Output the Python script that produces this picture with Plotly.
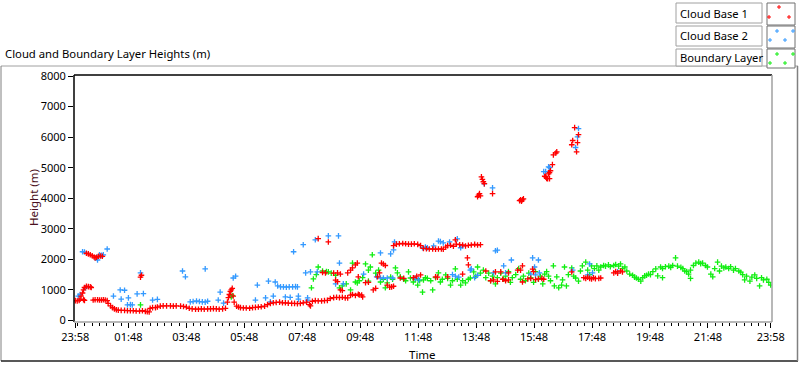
import plotly.graph_objects as go

# ---------------- data (minutes after 23:58, height in m) ----------------
cloud_base_1 = [
    (0, 650), (4, 640), (8, 660), (10, 700), (12, 800), (15, 900), (17, 1000), (19, 1080), (23, 1120),
    (27, 1110), (31, 1100), (33, 1080), (17, 680), (19, 660),
    (23, 2200), (27, 2180), (31, 2150), (35, 2120), (39, 2080), (41, 2050), (44, 2070), (48, 2100),
    (52, 2110), (56, 2100),
    (37, 670), (41, 680), (46, 680), (50, 670), (54, 670), (58, 680), (62, 670), (66, 650),
    (68, 560), (73, 480), (77, 420), (81, 380), (85, 350), (89, 340), (95, 330), (102, 330), (108, 320),
    (114, 320), (120, 320), (126, 310), (133, 310), (139, 320), (145, 300), (149, 290), (153, 280),
    (137, 1480), (135, 1420),
    (155, 400), (160, 420), (166, 420), (170, 440), (176, 470), (182, 480), (189, 480), (197, 480),
    (203, 470), (209, 480), (218, 470), (224, 460), (230, 440), (236, 400), (242, 380), (249, 370),
    (255, 370), (261, 380), (267, 370), (274, 380), (280, 380), (286, 390), (292, 380), (298, 370),
    (305, 380), (311, 400), (315, 600), (317, 750), (319, 850), (321, 950), (323, 1000), (325, 1050),
    (327, 800), (329, 600), (334, 470), (338, 440), (342, 420), (348, 410), (354, 410), (361, 400),
    (367, 420), (373, 430), (379, 440), (385, 450), (392, 470), (398, 520), (404, 560), (410, 580),
    (416, 590), (423, 600), (429, 580), (435, 580), (441, 570), (448, 560), (454, 560), (460, 550),
    (466, 560), (472, 580), (479, 600), (485, 520), (487, 480),
    (491, 630), (497, 650), (503, 640), (510, 640), (516, 650), (522, 660), (528, 720), (535, 750),
    (541, 760), (547, 750), (553, 760), (559, 740), (564, 740), (570, 830), (574, 850), (580, 820),
    (586, 860), (593, 830),
    (503, 2680), (524, 2570),
    (512, 1570), (518, 1560), (535, 1550), (543, 1560), (549, 1520), (543, 1270), (539, 1320),
    (549, 1000), (553, 980),
    (564, 1560), (570, 1650), (574, 1720), (580, 1820), (584, 1880), (586, 1430), (588, 840), (595, 770),
    (601, 1240), (607, 1250),
    (617, 1000), (622, 1050), (626, 1430), (630, 1560), (634, 1880), (638, 1850), (642, 1800),
    (646, 1160), (651, 1090), (655, 1100), (659, 1120),
    (659, 2450), (665, 2500), (671, 2510), (678, 2520), (684, 2510), (690, 2500), (696, 2500),
    (702, 2510), (709, 2490), (715, 2450), (721, 2360), (727, 2350), (733, 2340), (740, 2340),
    (746, 2330), (752, 2340), (758, 2340), (762, 2330), (767, 2400), (771, 2450), (777, 2460),
    (783, 2430), (787, 2640), (789, 2500), (796, 2480), (802, 2470), (808, 2440), (814, 2460),
    (820, 2470), (827, 2490), (833, 2470), (839, 2480),
    (673, 1390), (680, 1380), (700, 1400), (707, 1450), (715, 1490), (746, 1430), (750, 1420),
    (771, 1430), (802, 1520), (812, 2050), (814, 1820), (850, 1620), (860, 1300), (866, 1330),
    (870, 1590), (874, 1280), (881, 1590), (885, 1350), (891, 1300), (897, 1560), (897, 1330),
    (916, 1650), (922, 1650), (926, 1260), (926, 1790), (937, 1360), (943, 1380), (947, 1680),
    (949, 1600), (953, 1340), (959, 1360), (966, 1380), (970, 1350),
    (833, 4050), (835, 4100), (837, 4150), (839, 4080), (841, 4700), (843, 4620), (845, 4540),
    (847, 4480), (864, 4150), (920, 3920), (922, 3950), (924, 3900), (926, 3950), (928, 3980),
    (972, 4720), (974, 4700), (976, 4650), (978, 4640), (982, 4640), (980, 4800), (982, 4840),
    (984, 4900), (988, 5100), (990, 5420), (995, 5480), (997, 5520), (1028, 5750), (1030, 5890),
    (1038, 5520), (1040, 5820), (1042, 6080), (1034, 6310),
    (1028, 1590), (1053, 1400), (1057, 1380), (1061, 1420), (1065, 1380), (1069, 1360), (1073, 1400),
    (1077, 1370), (1084, 1380), (1088, 1390), (1115, 1560), (1119, 1600), (1123, 1550), (1129, 1620),
    (1133, 1590),
]

cloud_base_2 = [
    (15, 2250), (19, 2240), (46, 1980), (50, 2150), (54, 2130), (58, 2150), (66, 2340), (21, 1070),
    (6, 800), (10, 850),
    (79, 800), (93, 1000), (102, 990), (95, 700), (110, 740), (108, 510), (114, 520), (118, 510),
    (128, 870), (141, 880), (135, 1560), (160, 670), (170, 690), (222, 1620), (228, 1430), (269, 1690),
    (238, 610), (244, 620), (251, 640), (257, 620), (263, 610), (269, 600), (274, 630), (300, 930),
    (296, 670), (307, 570), (327, 1390), (332, 1450), (377, 1160), (373, 670), (400, 1290), (410, 800),
    (414, 1260), (419, 1130), (425, 1100), (431, 1100), (437, 1090), (443, 1100), (450, 1100),
    (456, 1110), (460, 1100), (452, 2250), (472, 2480), (477, 1560), (481, 740), (462, 800),
    (487, 1590), (497, 2640), (501, 1590), (524, 2770), (545, 2770), (547, 1880), (539, 1200),
    (555, 1200), (597, 1520), (632, 2210), (653, 2180), (659, 2310), (624, 1430), (638, 1390),
    (646, 1390), (657, 1390), (661, 2570), (719, 2380), (725, 2400), (729, 2380), (742, 2440),
    (752, 2600), (756, 2580), (762, 2540), (775, 2570), (791, 2670), (798, 2380), (802, 2440),
    (818, 1650), (820, 1690), (847, 4470), (864, 4340), (870, 2280), (874, 2300), (887, 1790),
    (903, 1980), (866, 1560), (891, 1560), (947, 2050), (959, 1980), (951, 1750), (953, 1490),
    (943, 1520), (961, 1560), (970, 4870), (974, 4870), (982, 5000), (980, 5030), (1030, 1650),
    (1036, 5660), (1040, 6010), (1042, 6280), (1065, 1850), (1071, 1560), (1061, 1490), (1123, 1590),
    (632, 1390), (394, 740), (404, 610), (435, 770), (445, 760), (462, 700), (481, 670),
    (704, 1380), (711, 1330), (781, 1500), (787, 1450), (794, 1420), (827, 1400), (833, 1480),
]

boundary_layer = [
    (135, 510), (323, 770), (325, 820),
    (489, 1070), (493, 1360), (499, 1500), (503, 1750), (512, 1620), (520, 1600), (524, 1590),
    (530, 1550), (539, 1480), (547, 1070), (553, 1130), (561, 1200), (570, 1000), (574, 1880),
    (580, 1260), (584, 1230), (588, 1300), (595, 1400), (601, 1850), (607, 1650), (611, 1750),
    (615, 2150), (607, 1290), (622, 1550), (628, 1650), (632, 1260), (638, 1350), (642, 1070),
    (646, 1230), (653, 1420), (657, 1350), (663, 1720), (667, 1560), (673, 1430), (680, 1350),
    (684, 1300), (690, 1590), (694, 1390), (700, 1260), (704, 1350), (709, 1160), (713, 1300),
    (719, 930), (721, 1330), (725, 1400), (729, 1380), (736, 1300), (740, 1000), (746, 1400),
    (752, 1560), (756, 1260), (760, 1350), (767, 1490), (771, 1380), (777, 1160), (781, 1300),
    (787, 1690), (791, 1350), (798, 1160), (802, 1300), (808, 1230), (814, 1350), (818, 1390),
    (825, 1590), (829, 1450), (833, 1750), (839, 1550),
    (845, 1650), (850, 1400), (856, 1550), (860, 1300), (864, 1450), (870, 1200), (874, 1400),
    (881, 1550), (887, 1350), (891, 1450), (897, 1600), (901, 1250), (905, 1400), (912, 1500),
    (918, 1700), (922, 1350), (928, 1450), (932, 1300), (939, 1550), (943, 1400), (949, 1250),
    (953, 1600), (959, 1350), (963, 1450), (968, 1200), (972, 1520), (976, 1600), (980, 1450),
    (984, 1300), (990, 1790), (992, 1130), (997, 1430), (1001, 1070), (1007, 1160), (1009, 1330),
    (1013, 1750), (1017, 1130), (1021, 1500), (1028, 1720), (1032, 1450), (1036, 1390), (1042, 1290),
    (1046, 1620), (1050, 1790), (1057, 1910), (1061, 1650), (1065, 1500), (1069, 1790), (1075, 1700),
    (1080, 1790), (1084, 1650),
    (1088, 1750), (1094, 1800), (1098, 1780), (1104, 1820), (1108, 1760), (1115, 1800), (1119, 1830),
    (1125, 1780), (1129, 1850), (1133, 1700), (1138, 1750), (1142, 1620), (1148, 1520), (1154, 1480),
    (1158, 1420), (1162, 1390), (1166, 1350), (1171, 1290), (1175, 1400), (1179, 1460), (1183, 1480),
    (1187, 1520), (1191, 1500), (1196, 1600), (1202, 1690), (1206, 1460), (1212, 1750), (1216, 1700),
    (1222, 1760), (1229, 1780), (1233, 1740), (1237, 1800), (1243, 2050), (1247, 1780), (1254, 1740),
    (1258, 1700), (1262, 1620), (1266, 1600), (1270, 1520), (1274, 1650), (1280, 1800), (1285, 1880),
    (1291, 1910), (1295, 1860), (1299, 1880), (1305, 1800), (1309, 1750), (1316, 1520), (1320, 1430),
    (1324, 1700), (1330, 1910), (1334, 1620), (1338, 1780), (1343, 1720), (1347, 1750), (1353, 1700),
    (1357, 1760), (1363, 1650), (1367, 1700), (1374, 1620), (1378, 1580), (1382, 1500), (1386, 1330),
    (1390, 1450), (1397, 1290), (1401, 1420), (1407, 1490), (1411, 1380), (1417, 1130), (1421, 1400),
    (1425, 1330), (1432, 1350), (1436, 1250), (1440, 1160), (1216, 1400), (1274, 1380),
]

series_names = ["Cloud Base 1", "Cloud Base 2", "Boundary Layer"]
series_colors = ["#ff0000", "#3399ff", "#11ee11"]

x_tick_values = [0, 110, 230, 350, 470, 590, 710, 830, 950, 1070, 1190, 1310, 1440]
x_tick_labels = ["23:58", "01:48", "03:48", "05:48", "07:48", "09:48", "11:48",
                 "13:48", "15:48", "17:48", "19:48", "21:48", "23:58"]
y_tick_values = [0, 1000, 2000, 3000, 4000, 5000, 6000, 7000, 8000]

# ---------------- figure ----------------
W, H = 800, 365
L, R, T, B = 74, 28, 75, 43
FONT = "Noto Sans"

fig = go.Figure()
for data, name, color in zip([boundary_layer, cloud_base_2, cloud_base_1],
                             series_names[::-1], series_colors[::-1]):
    xs = [p[0] for p in data]
    ys = [p[1] for p in data]
    fig.add_trace(go.Scatter(
        x=xs, y=ys, mode="markers", name=name, showlegend=False, hoverinfo="skip",
        marker=dict(symbol="cross-thin", size=4, color=color, line=dict(color=color, width=1.3)),
    ))


def px(xp):
    return (xp - L) / (W - L - R)


def py(yp):
    return (H - B - yp) / (H - T - B)


shapes = []
# outer frame
shapes.append(dict(type="line", xref="paper", yref="paper", x0=px(1), x1=px(798), y0=py(66), y1=py(66),
                   line=dict(color="#a0a0a0", width=1)))
shapes.append(dict(type="line", xref="paper", yref="paper", x0=px(1), x1=px(1), y0=py(66), y1=py(361),
                   line=dict(color="#808080", width=1)))
shapes.append(dict(type="line", xref="paper", yref="paper", x0=px(1), x1=px(798), y0=py(361), y1=py(361),
                   line=dict(color="#202020", width=1.5)))
shapes.append(dict(type="line", xref="paper", yref="paper", x0=px(797.5), x1=px(797.5), y0=py(66), y1=py(361),
                   line=dict(color="#808080", width=1.5)))
# plot area frame
shapes.append(dict(type="line", xref="paper", yref="paper", x0=0, x1=1, y0=1, y1=1,
                   line=dict(color="#000000", width=1.5)))
shapes.append(dict(type="line", xref="paper", yref="paper", x0=0, x1=0, y0=0, y1=1,
                   line=dict(color="#000000", width=1.5)))
shapes.append(dict(type="line", xref="paper", yref="paper", x0=1, x1=1, y0=0, y1=1,
                   line=dict(color="#a0a0a0", width=1.5)))
shapes.append(dict(type="line", xref="paper", yref="paper", x0=0, x1=1, y0=0, y1=0,
                   line=dict(color="#a0a0a0", width=1.5)))

annotations = []
# legend boxes
rows = [(3, 23), (26, 46), (49, 66)]
cross_pos = [
    [(779, 7), (769, 17), (789, 17)],
    [(777, 31), (793, 31), (770, 40), (785, 40)],
    [(777, 54), (793, 54), (770, 63), (785, 63)],
]
for (y0, y1), name, color, crosses in zip(rows, series_names, series_colors, cross_pos):
    shapes.append(dict(type="rect", xref="paper", yref="paper", x0=px(676), x1=px(762), y0=py(y1), y1=py(y0),
                       line=dict(color="#a0a0a0", width=1), fillcolor="#ffffff", layer="above"))
    shapes.append(dict(type="rect", xref="paper", yref="paper", x0=px(767), x1=px(795), y0=py(y1 + 2), y1=py(y0),
                       line=dict(color="#707070", width=1), fillcolor="#ffffff", layer="above"))
    annotations.append(dict(text=name, xref="paper", yref="paper", x=px(678), y=py((y0 + y1) / 2),
                            xanchor="left", yanchor="middle", showarrow=False,
                            font=dict(family=FONT, size=11.2, color="#000000")))
    for cx, cy in crosses:
        shapes.append(dict(type="line", xref="paper", yref="paper", x0=px(cx - 2), x1=px(cx + 2),
                           y0=py(cy), y1=py(cy), line=dict(color=color, width=1), layer="above"))
        shapes.append(dict(type="line", xref="paper", yref="paper", x0=px(cx), x1=px(cx),
                           y0=py(cy - 2), y1=py(cy + 2), line=dict(color=color, width=1), layer="above"))

# chart title
annotations.append(dict(text="Cloud and Boundary Layer Heights (m)", xref="paper", yref="paper",
                        x=px(3), y=py(53), xanchor="left", yanchor="middle", showarrow=False,
                        font=dict(family=FONT, size=11.3, color="#000000")))
# axis titles
annotations.append(dict(text="Time", xref="paper", yref="paper", x=px(422), y=py(354),
                        xanchor="center", yanchor="middle", showarrow=False,
                        font=dict(family=FONT, size=11.5, color="#000000")))
annotations.append(dict(text="Height (m)", xref="paper", yref="paper", x=px(33), y=py(198),
                        xanchor="center", yanchor="middle", showarrow=False, textangle=-90,
                        font=dict(family=FONT, size=11.5, color="#4a1020")))

fig.update_layout(
    width=W, height=H,
    margin=dict(l=L, r=R, t=T, b=B, pad=0, autoexpand=False),
    paper_bgcolor="#ffffff", plot_bgcolor="#ffffff",
    font=dict(family=FONT, size=11, color="#000000"),
    shapes=shapes, annotations=annotations,
    hovermode=False,
    xaxis=dict(
        range=[-2.7, 1442.7], tickmode="array", tickvals=x_tick_values, ticktext=x_tick_labels,
        showgrid=False, zeroline=False, showline=False, automargin=False,
        ticks="outside", ticklen=5, tickcolor="#000000", tickwidth=1,
        tickfont=dict(family=FONT, size=11, color="#000000"),
        minor=dict(tickmode="array", tickvals=list(range(5, 1440, 15)), ticks="outside", ticklen=3,
                   tickcolor="#000000", tickwidth=1, showgrid=False),
    ),
    yaxis=dict(
        range=[-49, 8033], tickmode="array", tickvals=y_tick_values,
        showgrid=False, zeroline=False, showline=False, automargin=False,
        ticks="outside", ticklen=5, tickcolor="#000000", tickwidth=1,
        tickfont=dict(family=FONT, size=11, color="#000000"),
    ),
)

fig.write_html("out.html", config={"displayModeBar": False},
               post_script="document.body.style.margin='0px';")
